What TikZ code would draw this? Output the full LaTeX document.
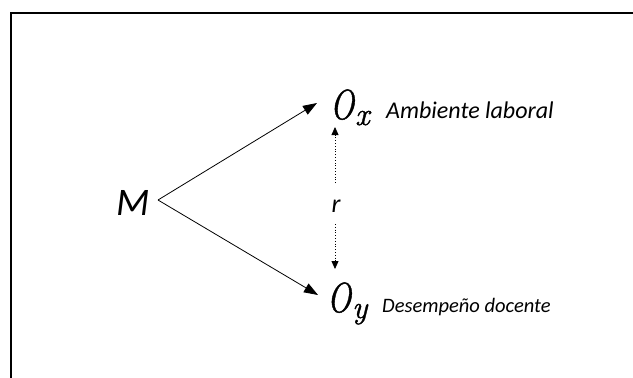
\documentclass[tikz,border=0pt]{standalone}
\usepackage{fontspec}
\setmainfont{Carlito}
\newfontfamily\varfont{Latin Modern Roman}[ItalicFeatures={FakeBold=1.2}]
\usetikzlibrary{arrows.meta}
\newcommand{\obsvar}[1]{{\varfont\itshape\scalebox{0.76}[1]{O}\kern1pt\raisebox{-6pt}{\fontsize{32}{32}\selectfont #1}}}
\begin{document}
\begin{tikzpicture}[x=1pt,y=-1pt,
  frameline/.style={line width=1.7pt,line join=miter},
  arr/.style={line width=0.8pt,-{Triangle[length=14pt,width=10pt]}},
  dotarr/.style={line width=0.8pt,dotted,-{Triangle[length=8pt,width=7pt]}},
  varname/.style={inner sep=0pt,font=\fontsize{42}{42}\selectfont},
  lbl/.style={inner sep=0pt,font=\itshape}]
  \useasboundingbox (0,0) rectangle (633,378);
  % open frame: left edge and top edge
  \draw[frameline] (11,378) -- (11,13) -- (633,13);
  % sample and observations
  \node[inner sep=0pt,anchor=base east,font=\fontsize{39}{39}\selectfont\itshape] (M) at (150,215) {M};
  \node[varname,anchor=base west] (Ox) at (330,119) {\obsvar{x}};
  \node[varname,anchor=base west] (Oy) at (327,312) {\obsvar{y}};
  \node[lbl,anchor=base west,font=\fontsize{24}{24}\selectfont\itshape] (lx) at (386,118) {Ambiente laboral};
  \node[lbl,anchor=base west,font=\fontsize{20.5}{20.5}\selectfont\itshape] (ly) at (382,312) {Desempeño docente};
  % correlation label
  \node[inner sep=0pt,font=\fontsize{26}{26}\selectfont\itshape] (r) at (336,206) {r};
  \coordinate (apex) at (158,200);
  \coordinate (tx) at (317,103);
  \coordinate (ty) at (318,295);
  \coordinate (ux) at (335,127);
  \coordinate (uy) at (335,269);
  \draw[arr] (apex) -- (tx);
  \draw[arr] (apex) -- (ty);
  \draw[dotarr] (335,183) -- (ux);
  \draw[dotarr] (335,224) -- (uy);
\end{tikzpicture}
\end{document}
